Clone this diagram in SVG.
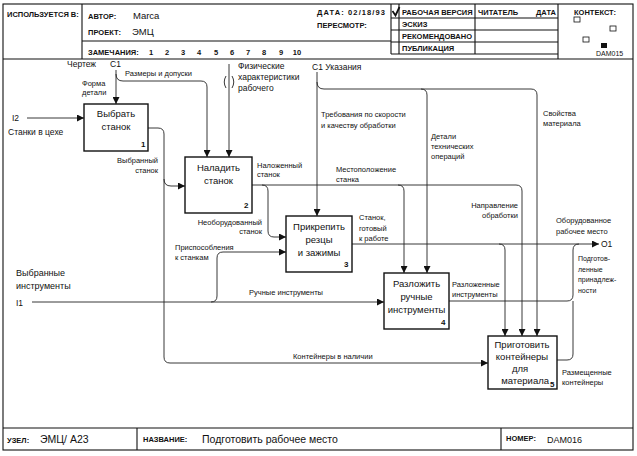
<svg xmlns="http://www.w3.org/2000/svg" width="637" height="456" viewBox="0 0 637 456">
<style>
.fl{fill:none;stroke:#111;stroke-width:1.1}
.hdr{font-family:"Liberation Sans",Arial,sans-serif;font-size:7.5px;font-weight:bold;fill:#111}
.big{font-family:"Liberation Sans",Arial,sans-serif;font-size:9.5px;fill:#111}
.bx{fill:#fff;stroke:#111;stroke-width:1.4}
.bt{font-family:"Liberation Sans",Arial,sans-serif;font-size:9.5px;text-anchor:middle;fill:#111}
.num{font-family:"Liberation Sans",Arial,sans-serif;font-size:8px;font-weight:bold;fill:#111}
.c{fill:none;stroke:#222;stroke-width:0.9}
.l{font-family:"Liberation Sans",Arial,sans-serif;font-size:7.5px;fill:#111}
.m{font-family:"Liberation Sans",Arial,sans-serif;font-size:8.5px;fill:#111}
.e{text-anchor:end}
</style>
<defs>
<marker id="a" markerUnits="userSpaceOnUse" markerWidth="8" markerHeight="7" refX="7" refY="3.5" orient="auto">
<path d="M0,0 L7,3.5 L0,7 z" fill="#111"/>
</marker>
</defs>
<rect width="637" height="456" fill="#fff"/>
<g id="frame">
<rect class="fl" x="3" y="4" width="630" height="446"/>
<path class="fl" d="M3,59 H633 M82,4 V59 M82,41 H391 M391,4 V54 M399,4 V54 M475,4 V54 M558,4 V59 M391,18 H558 M391,30 H558 M391,42 H558 M391,54 H558 M3,428 H633 M137,428 V450 M501,428 V450"/>
<path d="M392.5,11 L395.5,15.5 L399.5,7" fill="none" stroke="#111" stroke-width="1.8"/>
<text class="hdr" x="7" y="17">ИСПОЛЬЗУЕТСЯ В:</text>
<text class="hdr" x="88" y="19">АВТОР:</text>
<text class="big" x="133" y="19">Marca</text>
<text class="hdr" x="88" y="35">ПРОЕКТ:</text>
<text class="big" x="132" y="35">ЭМЦ</text>
<text class="hdr" x="88" y="55">ЗАМЕЧАНИЯ:</text>
<g class="hdr" text-anchor="middle">
<text x="151" y="55">1</text><text x="167" y="55">2</text><text x="183" y="55">3</text><text x="199" y="55">4</text><text x="216" y="55">5</text><text x="232" y="55">6</text><text x="248" y="55">7</text><text x="264" y="55">8</text><text x="281" y="55">9</text><text x="297" y="55">10</text>
</g>
<text class="hdr" x="317" y="15" textLength="68" lengthAdjust="spacing">ДАТА: 02/18/93</text>
<text class="hdr" x="317" y="28">ПЕРЕСМОТР:</text>
<text class="hdr" x="402" y="15">РАБОЧАЯ ВЕРСИЯ</text>
<text class="hdr" x="402" y="27">ЭСКИЗ</text>
<text class="hdr" x="402" y="39">РЕКОМЕНДОВАНО</text>
<text class="hdr" x="402" y="51">ПУБЛИКАЦИЯ</text>
<text class="hdr" x="478" y="15">ЧИТАТЕЛЬ</text>
<text class="hdr" x="536" y="15">ДАТА</text>
<text class="hdr" x="574" y="15">КОНТЕКСТ:</text>
<g fill="none" stroke="#111" stroke-width="0.8">
<rect x="574" y="17" width="6" height="5"/>
<rect x="610" y="26" width="6" height="5"/>
<rect x="583" y="37" width="6" height="5"/>
</g>
<rect x="601" y="43" width="6" height="5" fill="#111"/>
<text class="l" x="596" y="56" style="font-size:7px">DAM015</text>
<text class="hdr" x="7" y="443">УЗЕЛ:</text>
<text class="big" x="40" y="443" style="font-size:10.5px">ЭМЦ/ A23</text>
<text class="hdr" x="143" y="442">НАЗВАНИЕ:</text>
<text class="big" x="202" y="443" style="font-size:10.5px">Подготовить рабочее место</text>
<text class="hdr" x="506" y="441">НОМЕР:</text>
<text class="big" x="547" y="443" style="font-size:9px">DAM016</text>
</g>
<g id="connectors">
<path class="c" marker-end="url(#a)" d="M116,70 V104"/>
<path class="c" marker-end="url(#a)" d="M116,74 Q116,81 123,81 H201 Q207,81 207,87 V157"/>
<path class="c" marker-end="url(#a)" d="M229,64 V157"/>
<path class="c" d="M226,76 Q222.5,82 226,88 M232,76 Q235.5,82 232,88"/>
<path class="c" marker-end="url(#a)" d="M27,118 H84"/>
<path class="c" marker-end="url(#a)" d="M148,128 H158 Q164,128 164,134 V357 Q164,363 170,363 H488"/>
<path class="c" marker-end="url(#a)" d="M164,179 Q164,186 171,186 H185"/>
<path class="c" marker-end="url(#a)" d="M252,185 H516 Q522,185 522,191 V336"/>
<path class="c" marker-end="url(#a)" d="M398,185 Q404,185 404,191 V273"/>
<path class="c" marker-end="url(#a)" d="M262,185 Q268,185 268,191 V231 Q268,237 274,237 H286"/>
<path class="c" marker-end="url(#a)" d="M317,72 V216"/>
<path class="c" marker-end="url(#a)" d="M317,82 Q317,89 324,89 H531 Q537,89 537,95 V336"/>
<path class="c" marker-end="url(#a)" d="M421,89 Q427,89 427,95 V273"/>
<path class="c" marker-end="url(#a)" d="M32,302 H384"/>
<path class="c" marker-end="url(#a)" d="M211,302 Q217,302 217,296 V258 Q217,252 223,252 H286"/>
<path class="c" marker-end="url(#a)" d="M352,244 H599"/>
<path class="c" marker-end="url(#a)" d="M499,244 Q505,244 505,250 V336"/>
<path class="c" d="M449,301 H567 Q573,301 573,295 V250 Q573,244 579,244"/>
<path class="c" d="M557,360 H567 Q573,360 573,354 V301"/>
</g>
<g id="labels">
<text class="m" x="67" y="67">Чертеж</text>
<text class="m" x="110" y="67">C1</text>
<text class="l" x="125" y="76">Размеры и допуски</text>
<text class="l" x="82" y="86">Форма</text>
<text class="l" x="82" y="95">детали</text>
<text class="m" x="238" y="69">Физические</text>
<text class="m" x="238" y="80">характеристики</text>
<text class="m" x="238" y="91">рабочего</text>
<text class="m" x="312" y="70">C1 Указания</text>
<text class="l" x="321" y="117">Требования по скорости</text>
<text class="l" x="321" y="128">и качеству обработки</text>
<text class="l" x="431" y="139">Детали</text>
<text class="l" x="431" y="149">технических</text>
<text class="l" x="431" y="159">операций</text>
<text class="l" x="543" y="116">Свойства</text>
<text class="l" x="543" y="126">материала</text>
<text class="l" x="336" y="172">Местоположение</text>
<text class="l" x="336" y="182">станка</text>
<text class="m" x="12" y="121">I2</text>
<text class="m" x="8" y="135">Станки в цехе</text>
<text class="l e" x="158" y="163">Выбранный</text>
<text class="l e" x="158" y="173">станок</text>
<text class="l" x="257" y="168">Наложенный</text>
<text class="l" x="257" y="177">станок</text>
<text class="l e" x="262" y="225">Необорудованный</text>
<text class="l e" x="262" y="234">станок</text>
<text class="l" x="175" y="250">Приспособления</text>
<text class="l" x="175" y="260">к станкам</text>
<text class="l" x="359" y="220">Станок,</text>
<text class="l" x="359" y="231">готовый</text>
<text class="l" x="359" y="241">к работе</text>
<text class="l e" x="518" y="208">Направление</text>
<text class="l e" x="518" y="218">обработки</text>
<text class="l" x="556" y="223">Оборудованное</text>
<text class="l" x="556" y="234">рабочее место</text>
<text class="m" x="601" y="247">O1</text>
<text class="l" x="578" y="261" style="font-size:7px">Подготов-</text>
<text class="l" x="578" y="271.5" style="font-size:7px">ленные</text>
<text class="l" x="578" y="282" style="font-size:7px">принадлеж-</text>
<text class="l" x="578" y="292.5" style="font-size:7px">ности</text>
<text class="l" x="452" y="287">Разложенные</text>
<text class="l" x="452" y="297">инструменты</text>
<text class="l" x="249" y="295">Ручные инструменты</text>
<text class="m" x="16" y="276" style="font-size:9px">Выбранные</text>
<text class="m" x="16" y="289" style="font-size:9px">инструменты</text>
<text class="m" x="16" y="306">I1</text>
<text class="l" x="293" y="359">Контейнеры в наличии</text>
<text class="l" x="562" y="375">Размещенные</text>
<text class="l" x="562" y="385">контейнеры</text>
</g>
<g id="node1">
<rect class="bx" x="84" y="104" width="64" height="47"/>
<text class="bt" x="116" y="117">Выбрать</text>
<text class="bt" x="116" y="130">станок</text>
<text class="num" x="141" y="147">1</text>
</g>
<g id="node2">
<rect class="bx" x="185" y="157" width="67" height="56"/>
<text class="bt" x="218.5" y="171">Наладить</text>
<text class="bt" x="218.5" y="184">станок</text>
<text class="num" x="244" y="208">2</text>
</g>
<g id="node3">
<rect class="bx" x="286" y="216" width="66" height="56"/>
<text class="bt" x="319" y="230">Прикрепить</text>
<text class="bt" x="319" y="243">резцы</text>
<text class="bt" x="319" y="256">и зажимы</text>
<text class="num" x="344" y="267">3</text>
</g>
<g id="node4">
<rect class="bx" x="384" y="273" width="65" height="56"/>
<text class="bt" x="416.5" y="287">Разложить</text>
<text class="bt" x="416.5" y="300">ручные</text>
<text class="bt" x="416.5" y="313">инструменты</text>
<text class="num" x="441" y="325">4</text>
</g>
<g id="node5">
<rect class="bx" x="488" y="336" width="69" height="53"/>
<text class="bt" x="522" y="348">Приготовить</text>
<text class="bt" x="522" y="360">контейнеры</text>
<text class="bt" x="520" y="372">для</text>
<text class="bt e" x="549" y="384">материала</text>
<text class="num" x="550" y="387">5</text>
</g>
</svg>
